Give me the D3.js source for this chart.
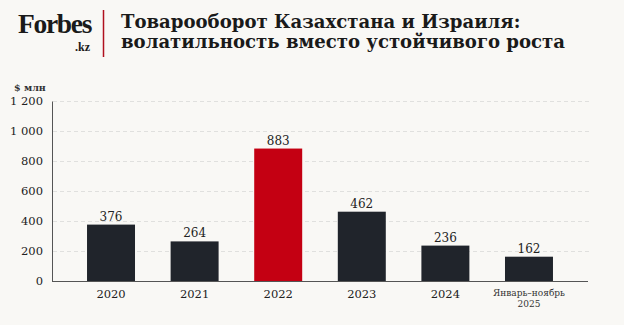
<!DOCTYPE html>
<html>
<head>
<meta charset="utf-8">
<script src="https://cdn.jsdelivr.net/npm/d3@7"></script>
<style>
  body { margin: 0; background: #f9f8f5; }
  svg text { font-family: "DejaVu Serif", serif; }
</style>
</head>
<body>
<div id="chart"></div>
<script>
var years = ["2020", "2021", "2022", "2023", "2024", "2025"];
var labels = [["2020"], ["2021"], ["2022"], ["2023"], ["2024"], ["Январь–ноябрь", "2025"]];
var values = [376, 264, 883, 462, 236, 162];
var highlight = "2022";
var yticks = [0, 200, 400, 600, 800, 1000, 1200];
var title = ["Товарооборот Казахстана и Израиля:", "волатильность вместо устойчивого роста"];

var W = 624, H = 325;
var svg = d3.select("#chart").append("svg")
    .attr("width", W).attr("height", H);

svg.append("rect").attr("width", W).attr("height", H).attr("fill", "#f9f8f5");

// logo
svg.append("text").attr("x", 18).attr("y", 33)
    .attr("font-size", 27.5).attr("font-weight", "bold")
    .attr("letter-spacing", -1.3)
    .style("font-family", "'Liberation Serif', serif")
    .attr("fill", "#1a1a1a").text("Forbes");
svg.append("text").attr("x", 90).attr("y", 51)
    .attr("text-anchor", "end")
    .attr("font-size", 12).attr("font-weight", "bold")
    .style("font-family", "'Liberation Serif', serif")
    .attr("fill", "#1a1a1a").text(".kz");
svg.append("line").attr("x1", 103.5).attr("x2", 103.5)
    .attr("y1", 10).attr("y2", 57)
    .attr("stroke", "#b0101e").attr("stroke-width", 1.5);

// title
title.forEach(function(t, i) {
    svg.append("text").attr("x", 121).attr("y", 28 + i * 20)
        .attr("font-size", 18.1).attr("font-weight", "bold")
        .attr("fill", "#1a1a1a").text(t);
});

var x = d3.scaleBand().domain(years).range([52, 588])
    .paddingInner(0.426).paddingOuter(0.419);
var y = d3.scaleLinear().domain([0, 1200]).range([281, 101]);

// grid
svg.append("g").selectAll("line").data(yticks.slice(1)).enter().append("line")
    .attr("x1", 53).attr("x2", 590)
    .attr("y1", function(d) { return y(d) + 0.5; })
    .attr("y2", function(d) { return y(d) + 0.5; })
    .attr("stroke", "#e0e0de").attr("stroke-dasharray", "4,3");

// y axis
var yAxis = svg.append("g").attr("transform", "translate(52,0)")
    .call(d3.axisLeft(y).tickValues(yticks).tickSize(0).tickPadding(9)
          .tickFormat(function(d) { return d3.format(",")(d).replace(",", " "); }));
yAxis.select(".domain").attr("stroke", "#555");
yAxis.selectAll("text").attr("font-size", 11.5).attr("fill", "#222")
    .style("font-family", "'DejaVu Serif', serif");

svg.append("text").attr("x", 14).attr("y", 91)
    .attr("font-size", 9.5).attr("font-weight", "bold")
    .attr("fill", "#333").text("$ млн");

// bars
svg.append("g").selectAll("rect").data(values).enter().append("rect")
    .attr("x", function(d, i) { return x(years[i]); })
    .attr("width", x.bandwidth())
    .attr("y", function(d) { return y(d); })
    .attr("height", function(d) { return y(0) - y(d); })
    .attr("fill", function(d, i) { return years[i] == highlight ? "#c40012" : "#20242b"; });

svg.append("g").selectAll("text").data(values).enter().append("text")
    .attr("x", function(d, i) { return x(years[i]) + x.bandwidth() / 2; })
    .attr("y", function(d) { return y(d) - 4; })
    .attr("text-anchor", "middle").attr("font-size", 12)
    .attr("fill", "#222").text(function(d) { return d; });

// baseline
svg.append("line").attr("x1", 52).attr("x2", 588)
    .attr("y1", 281.5).attr("y2", 281.5)
    .attr("stroke", "#555").attr("stroke-width", 1.2);

// x labels
labels.forEach(function(l, i) {
    var cx = x(years[i]) + x.bandwidth() / 2;
    if (l.length == 1) {
        svg.append("text").attr("x", cx).attr("y", 298)
            .attr("text-anchor", "middle").attr("font-size", 11.5)
            .attr("fill", "#222").text(l[0]);
    } else {
        l.forEach(function(s, j) {
            svg.append("text").attr("x", cx).attr("y", 296 + j * 11)
                .attr("text-anchor", "middle").attr("font-size", 9)
                .attr("fill", "#333").text(s);
        });
    }
});
</script>
</body>
</html>
